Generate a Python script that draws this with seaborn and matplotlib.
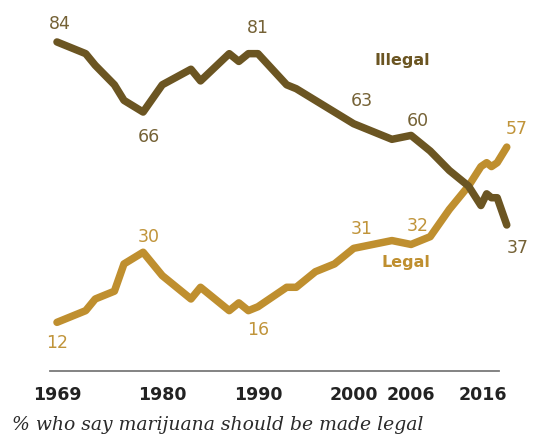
import matplotlib
matplotlib.use("Agg")
import matplotlib.pyplot as plt
import seaborn as sns
import pandas as pd

# ---- data ----
years = [1969, 1972, 1973, 1975, 1976, 1978, 1980, 1983, 1984, 1987, 1988, 1989,
         1990, 1993, 1994, 1996, 1998, 2000, 2004, 2006, 2008, 2010, 2012,
         2013.3, 2013.9, 2014.4, 2015, 2016]
illegal = [84, 81, 78, 73, 69, 66, 73, 77, 74, 81, 79, 81,
           81, 73, 72, 69, 66, 63, 59, 60, 56, 51, 47,
           42, 45, 44, 44, 37]
legal = [12, 15, 18, 20, 27, 30, 24, 18, 21, 15, 17, 15,
         16, 21, 21, 25, 27, 31, 33, 32, 34, 41, 47,
         52, 53, 52, 53, 57]
tick_years = [1969, 1980, 1990, 2000, 2006, 2016]
series_names = ["Legal", "Illegal"]
illegal_labeled = [1969, 1978, 1990, 2000, 2006, 2016]
legal_labeled = [1969, 1978, 1990, 2000, 2006, 2016]
caption = "% who say marijuana should be made legal"

# ---- styling ----
c_illegal = "#6B5522"
c_legal = "#BF8F2F"
c_illegal_txt = "#756236"
c_legal_txt = "#C0943A"

df = pd.DataFrame({
    "year": years * 2,
    "value": legal + illegal,
    "series": ["Legal"] * len(years) + ["Illegal"] * len(years),
})

sns.set_theme(style="white")
plt.rcParams["font.family"] = ["DejaVu Sans"]

fig = plt.figure(figsize=(5.35, 4.39), dpi=100)
ax = fig.add_axes([50 / 535, 1 - 372 / 439, 465 / 535, 352 / 439])

sns.lineplot(data=df, x="year", y="value", hue="series",
             hue_order=series_names, palette=[c_legal, c_illegal],
             linewidth=5.4, ax=ax, legend=False, clip_on=False,
             solid_capstyle="round", solid_joinstyle="round")

for s in ["left", "right", "top"]:
    ax.spines[s].set_visible(False)
ax.spines["bottom"].set_color("#7a7a7a")
ax.spines["bottom"].set_linewidth(1.3)
ax.set_yticks([])
ax.set_xticks(tick_years)
ax.set_xticklabels([str(y) for y in tick_years], fontweight="bold",
                   fontsize=12.5, color="#222222")
ax.tick_params(axis="x", length=0, pad=10)
ax.set_xlim(1968.27, 2016.86)
ax.set_ylim(-0.5, 89.9)
ax.spines["bottom"].set_bounds(1968.27, 2015.19)
tl = ax.get_xticklabels()
tl[-1].set_horizontalalignment("right")
ax.set_xlabel("")
ax.set_ylabel("")

ill_offsets = [(2, 14), (4, -17), (0, 19), (6, 17), (5, 11), (8, -16)]
leg_offsets = [(0, -14), (4, 12), (0, -16), (6, 15), (5, 14), (7, 14)]

for yr, off in zip(illegal_labeled, ill_offsets):
    v = illegal[years.index(yr)]
    ax.annotate(str(v), (yr, v), xytext=off, textcoords="offset points",
                ha="center", va="center", fontsize=12.5, color=c_illegal_txt,
                annotation_clip=False)
for yr, off in zip(legal_labeled, leg_offsets):
    v = legal[years.index(yr)]
    ax.annotate(str(v), (yr, v), xytext=off, textcoords="offset points",
                ha="center", va="center", fontsize=12.5, color=c_legal_txt,
                annotation_clip=False)

ax.annotate("Illegal", (2006, illegal[years.index(2006)]), xytext=(-6, 55),
            textcoords="offset points", ha="center", va="center",
            fontsize=11.5, fontweight="bold", color=c_illegal)
ax.annotate("Legal", (2006, legal[years.index(2006)]), xytext=(-4, -12),
            textcoords="offset points", ha="center", va="center",
            fontsize=11.5, fontweight="bold", color=c_legal)

fig.text(12 / 535, 1 - 425 / 439, caption, ha="left", va="center",
         fontsize=13.5, style="italic", family="DejaVu Serif", color="#2a2a2a")

fig.savefig("out.png", dpi=100)
